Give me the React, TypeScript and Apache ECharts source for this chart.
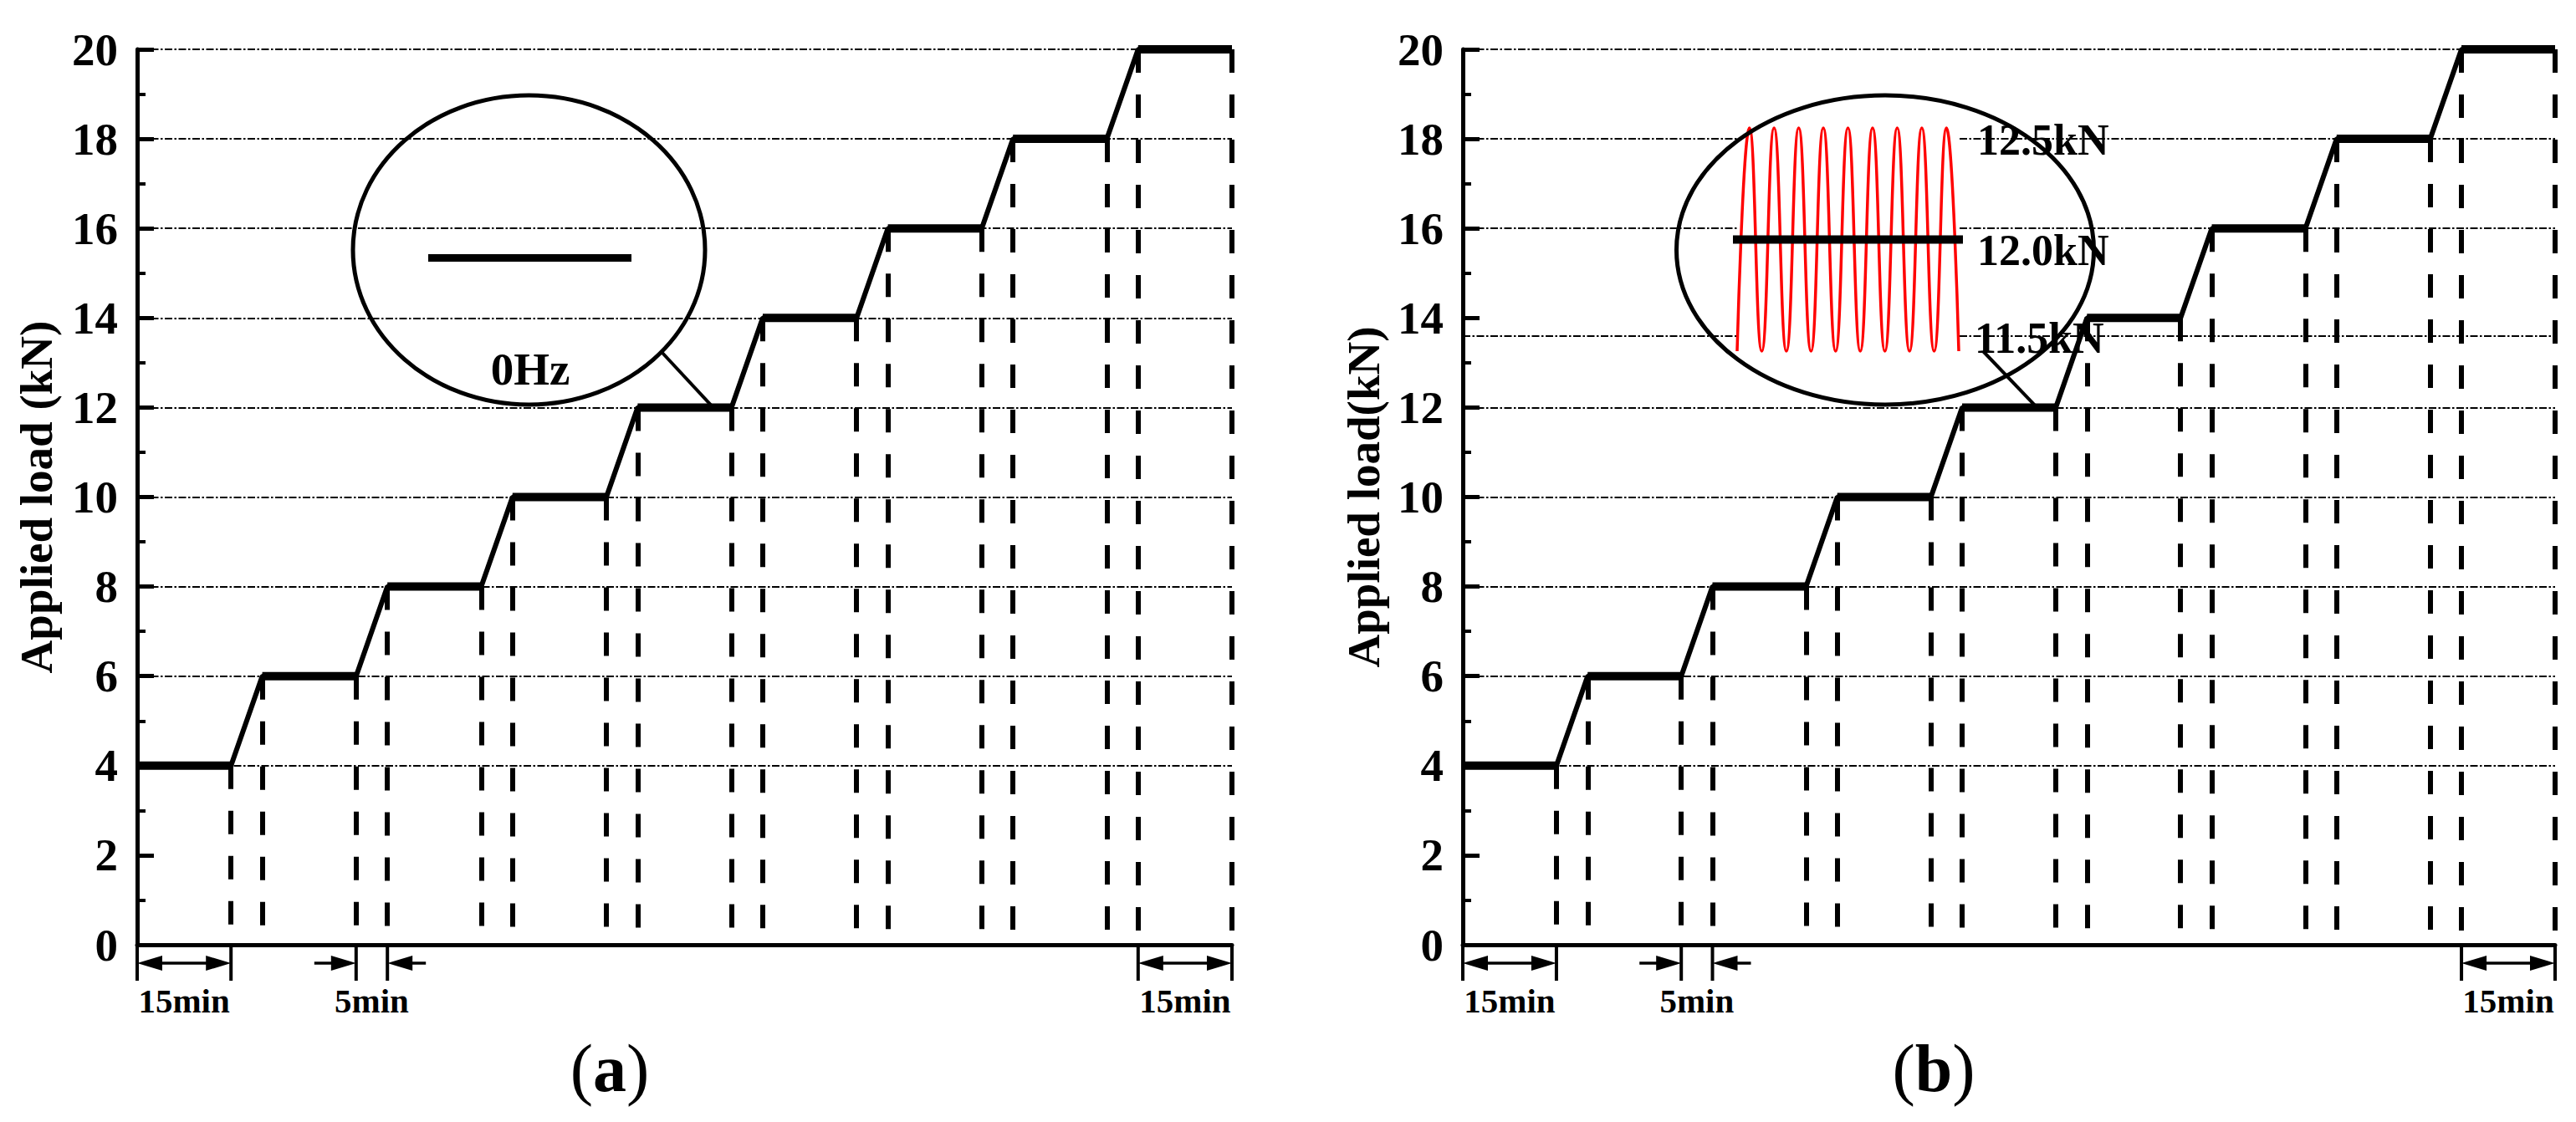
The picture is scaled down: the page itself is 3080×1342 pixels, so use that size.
import React, { useEffect, useRef } from 'react';
import * as echarts from 'echarts';

// ---- data ----
const levels = [4, 6, 8, 10, 12, 14, 16, 18, 20]; // kN, load plateaus
const holdStart = [0, 20, 40, 60, 80, 100, 120, 140, 160]; // min
const holdEnd = [15, 35, 55, 75, 95, 115, 135, 155, 175]; // min
const gridLevelsA = [4, 6, 8, 10, 12, 14, 16, 18, 20];
const gridLevelsB = [4, 6, 8, 10, 12, 13.6, 16, 18, 20];

// inset (b): cyclic load between 11.5 and 12.5 kN (phase in cycles)
const wavePhase = [0, 0.5, 1, 1.5, 2, 2.5, 3, 3.5, 4, 4.5, 5, 5.5, 6, 6.5, 7, 7.5, 8, 8.5, 9];
const waveLoad = [11.5, 12.5, 11.5, 12.5, 11.5, 12.5, 11.5, 12.5, 11.5, 12.5, 11.5, 12.5, 11.5, 12.5, 11.5, 12.5, 11.5, 12.5, 11.5];
const meanPhase = [-0.85, 9.72];
const meanLoad = 12.0;
const waveLabels = ['12.5kN', '12.0kN', '11.5kN'];
// inset (a): static load
const staticPhase = [0, 1];

// time dimension annotations
const dimFrom = [0, 35, 160];
const dimTo = [15, 40, 175];
const dimLabels = ['15min', '5min', '15min'];
const dimInside = [true, false, true];

const FONT = "'Liberation Serif', 'Times New Roman', serif";

const stepData: any[] = [];
const plateauData: any[] = [];
const verticals: number[][] = [];
levels.forEach((lv, i) => {
  stepData.push([holdStart[i], lv], [holdEnd[i], lv]);
  plateauData.push([holdStart[i], lv], [holdEnd[i], lv], [holdEnd[i], '-']);
  if (holdStart[i] > 0) verticals.push([holdStart[i], lv]);
  verticals.push([holdEnd[i], lv]);
});

function mainX(g: number) {
  return {
    type: 'value', gridIndex: g, min: 0, max: 175,
    axisLine: { show: true, onZero: false, lineStyle: { color: '#000', width: 5 } },
    axisTick: { show: false }, axisLabel: { show: false }, splitLine: { show: false },
  };
}
function mainY(g: number, name: string, gap: number) {
  return {
    type: 'value', gridIndex: g, min: 0, max: 20, interval: 2,
    name, nameLocation: 'middle', nameGap: gap, nameRotate: 90,
    nameTextStyle: { fontFamily: FONT, fontWeight: 'bold', fontSize: 55, color: '#000' },
    axisLine: { show: true, onZero: false, lineStyle: { color: '#000', width: 5 } },
    axisTick: { show: true, inside: true, length: 20, lineStyle: { color: '#000', width: 5 } },
    minorTick: { show: true, splitNumber: 2, length: 10, lineStyle: { color: '#000', width: 4 } },
    axisLabel: { fontFamily: FONT, fontWeight: 'bold', fontSize: 55, color: '#000', margin: 23 },
    splitLine: { show: false },
  };
}
function hiddenAxis(g: number, min: number, max: number) {
  return { type: 'value', gridIndex: g, min, max, show: false, splitLine: { show: false } };
}

function mainSeries(g: number, gridLevels: number[]) {
  return [
    {
      type: 'line', xAxisIndex: g, yAxisIndex: g, data: stepData, symbol: 'none', z: 3,
      lineStyle: { color: '#000', width: 6 },
      markLine: {
        silent: true, symbol: ['none', 'none'], label: { show: false },
        lineStyle: { color: '#000', width: 2, type: [9, 2.5, 2.5, 2.5] },
        emphasis: { disabled: true },
        data: gridLevels.map((v) => ({ yAxis: v })),
      },
    },
    {
      type: 'line', xAxisIndex: g, yAxisIndex: g, data: plateauData, symbol: 'none', z: 4,
      connectNulls: false,
      lineStyle: { color: '#000', width: 10, cap: 'butt' },
      markLine: {
        silent: true, symbol: ['none', 'none'], label: { show: false },
        lineStyle: { color: '#000', width: 6, type: [28, 26] },
        emphasis: { disabled: true },
        data: verticals.map(([t, lv]) => [{ coord: [t, lv] }, { coord: [t, 0] }]),
      },
    },
  ];
}

const option: any = {
  animation: false,
  backgroundColor: '#fff',
  grid: [
    { left: 164, top: 59, width: 1309, height: 1071, outerBoundsMode: 'none' },
    { left: 1749, top: 59, width: 1306, height: 1071, outerBoundsMode: 'none' },
    { left: 2077, top: 153, width: 265, height: 267, show: true, backgroundColor: '#fff', borderWidth: 0, z: 6, outerBoundsMode: 'none' },
    { left: 512, top: 175, width: 243, height: 267, outerBoundsMode: 'none' },
  ],
  xAxis: [mainX(0), mainX(1), hiddenAxis(2, 0, 9), hiddenAxis(3, 0, 1)],
  yAxis: [
    mainY(0, 'Applied load (kN)', 93),
    mainY(1, 'Applied load(kN)', 91),
    hiddenAxis(2, 11.5, 12.5),
    hiddenAxis(3, 11.5, 12.5),
  ],
  series: [
    ...mainSeries(0, gridLevelsA),
    ...mainSeries(1, gridLevelsB),
    {
      type: 'line', xAxisIndex: 2, yAxisIndex: 2, symbol: 'none', smooth: true, clip: false, z: 7,
      data: wavePhase.map((p, i) => [p, waveLoad[i]]),
      lineStyle: { color: '#ff0000', width: 3.5 },
    },
    {
      type: 'line', xAxisIndex: 2, yAxisIndex: 2, symbol: 'none', clip: false, z: 8,
      data: meanPhase.map((p) => [p, meanLoad]),
      lineStyle: { color: '#000', width: 10, cap: 'butt' },
    },
    {
      type: 'line', xAxisIndex: 3, yAxisIndex: 3, symbol: 'none', clip: false, z: 8,
      data: staticPhase.map((p) => [p, meanLoad]),
      lineStyle: { color: '#000', width: 9, cap: 'butt' },
    },
  ],
};

export default function App() {
  const ref = useRef<HTMLDivElement>(null);
  useEffect(() => {
    const chart = echarts.init(ref.current as HTMLDivElement, null, { renderer: 'svg' });
    chart.setOption(option);
    const px = (g: number, x: number, y: number) =>
      chart.convertToPixel({ gridIndex: g } as any, [x, y]) as unknown as number[];

    const els: any[] = [];
    const line = (x1: number, y1: number, x2: number, y2: number, w: number) =>
      els.push({ type: 'line', z: 10, silent: true, shape: { x1, y1, x2, y2 }, style: { stroke: '#000', lineWidth: w } });
    const tri = (xt: number, y: number, dir: number) =>
      els.push({
        type: 'polygon', z: 10, silent: true,
        shape: { points: [[xt, y], [xt + dir * 30, y - 9], [xt + dir * 30, y + 9]] },
        style: { fill: '#000' },
      });
    const text = (x: number, y: number, t: string, size: number, align = 'center', extra: any = {}) =>
      els.push({
        type: 'text', z: 10, silent: true, x, y,
        style: { text: t, fontSize: size, fontWeight: 'bold', fontFamily: FONT, fill: '#000', align, verticalAlign: 'middle', ...extra },
      });

    [0, 1].forEach((g) => {
      dimFrom.forEach((f, k) => {
        const [x1, y0] = px(g, f, 0);
        const [x2] = px(g, dimTo[k], 0);
        const ya = y0 + 22;
        line(x1, y0, x1, y0 + 43, 4);
        line(x2, y0, x2, y0 + 43, 4);
        if (dimInside[k]) {
          line(x1 + 10, ya, x2 - 10, ya, 3.5);
          tri(x1, ya, 1);
          tri(x2, ya, -1);
        } else {
          line(x1 - 50, ya, x1 - 10, ya, 3.5);
          tri(x1, ya, -1);
          line(x2 + 10, ya, x2 + 46, ya, 3.5);
          tri(x2, ya, 1);
        }
        text((x1 + x2) / 2, y0 + 67, dimLabels[k], 41);
      });
    });

    // inset outlines and leaders
    els.push({ type: 'ellipse', z: 10, silent: true, shape: { cx: 632.5, cy: 299, rx: 210.5, ry: 185 }, style: { fill: 'none', stroke: '#000', lineWidth: 5 } });
    els.push({ type: 'ellipse', z: 10, silent: true, shape: { cx: 2254, cy: 299, rx: 249.5, ry: 185 }, style: { fill: 'none', stroke: '#000', lineWidth: 5 } });
    const ea = px(0, 91.7, 12);
    line(791, 421, ea[0], ea[1] - 3, 4);
    const eb = px(1, 91.6, 12);
    line(2371, 420, eb[0], eb[1] - 3, 4);

    text(634, 441, '0Hz', 55);
    text(2364, 167, waveLabels[0], 52, 'left');
    text(2364, 299, waveLabels[1], 52, 'left');
    text(2361, 404, waveLabels[2], 52, 'left');

    // panel labels
    const panel = (x: number, letter: string) =>
      els.push({
        type: 'text', z: 10, silent: true, x, y: 1278,
        style: {
          text: '{p|(}{b|' + letter + '}{p|)}', fontFamily: FONT, fontSize: 80, fill: '#000',
          align: 'center', verticalAlign: 'middle',
          rich: {
            p: { fontFamily: FONT, fontSize: 82, fontWeight: 'normal', fill: '#000' },
            b: { fontFamily: FONT, fontSize: 80, fontWeight: 'bold', fill: '#000' },
          },
        },
      });
    panel(729, 'a');
    panel(2312, 'b');

    chart.setOption({ graphic: { elements: els } });
    return () => chart.dispose();
  }, []);

  return (
    <div
      ref={ref}
      style={{ position: 'absolute', left: 0, top: 0, width: 3080, height: 1342, background: '#fff' }}
    />
  );
}
